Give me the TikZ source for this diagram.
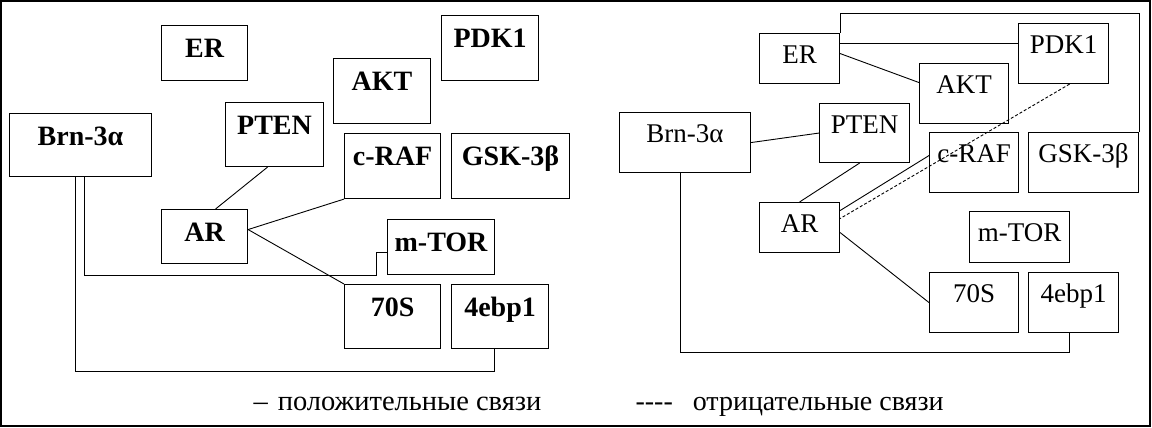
\documentclass[tikz,border=0pt]{standalone}
\usepackage{fontspec}
\setmainfont{Liberation Serif}
\usepackage{tikz}

\tikzset{
    gene/.style={draw, line width=1.1pt, inner sep=0pt, anchor=north west},
    genea/.style={gene, font=\bfseries\fontsize{28}{28}\selectfont, text height=32pt},
    geneb/.style={gene, font=\fontsize{27}{27}\selectfont, text height=30pt},
    link/.style={line width=0.9pt},
}

\begin{document}
\begin{tikzpicture}[x=1pt, y=-1pt]
    \useasboundingbox (0, 0) rectangle (1152, 428);
    \draw [line width=2pt] (1, 1) rectangle (1150, 426);

    % left scheme
    \node [genea, minimum width=86pt, text depth=23pt] (ERa) at (161, 25) {ER};
    \node [genea, minimum width=97pt, text depth=33pt] (PDKa) at (441, 15) {PDK1};
    \node [genea, minimum width=97pt, text depth=33pt] (AKTa) at (333, 58) {AKT};
    \node [genea, minimum width=98pt, text depth=32pt] (PTENa) at (225, 102) {PTEN};
    \node [genea, minimum width=142pt, text depth=31pt] (Brna) at (9, 113) {Brn-3α};
    \node [genea, minimum width=96pt, text depth=33pt] (cRAFa) at (344, 133) {c-RAF};
    \node [genea, minimum width=118pt, text depth=33pt] (GSKa) at (451, 133) {GSK-3β};
    \node [genea, minimum width=86pt, text depth=22pt] (ARa) at (161, 209) {AR};
    \node [genea, minimum width=107pt, text depth=23pt] (mTORa) at (387, 219) {m-TOR};
    \node [genea, minimum width=96pt, text depth=32pt] (SSa) at (344, 284) {70S};
    \node [genea, minimum width=97pt, text depth=32pt] (ebpa) at (451, 284) {4ebp1};

    \draw [link] ([xshift=-7pt]PTENa.south) -- ([xshift=11pt]ARa.north);
    \draw [link] ([yshift=7pt]ARa.east) -- (cRAFa.south west);
    \draw [link] ([yshift=7pt]ARa.east) -- (SSa.north west);
    \draw [link] ([xshift=4pt]Brna.south) |- ([xshift=-11pt]mTORa.south west)
      |- ([yshift=-5.5pt]mTORa.west);
    \draw [link] ([xshift=-5pt]Brna.south) |- ([xshift=-5.5pt, yshift=-22pt]ebpa.south)
      -- ([xshift=-5.5pt]ebpa.south);

    % right scheme
    \node [geneb, minimum width=80pt, text depth=20pt] (ERb) at (759, 33) {ER};
    \node [geneb, minimum width=90pt, text depth=30pt] (PDKb) at (1018, 23) {PDK1};
    \node [geneb, minimum width=89pt, text depth=30pt] (AKTb) at (919, 63) {AKT};
    \node [geneb, minimum width=90pt, text depth=29pt] (PTENb) at (819, 103) {PTEN};
    \node [geneb, minimum width=131pt, text depth=30pt] (Brnb) at (619, 112) {Brn-3α};
    \node [geneb, minimum width=89pt, text depth=30pt] (cRAFb) at (929, 132) {c-RAF};
    \node [geneb, minimum width=110pt, text depth=30pt] (GSKb) at (1028, 132) {GSK-3β};
    \node [geneb, minimum width=80pt, text depth=20pt] (ARb) at (759, 202) {AR};
    \node [geneb, minimum width=100pt, text depth=21pt] (mTORb) at (969, 211) {m-TOR};
    \node [geneb, minimum width=89pt, text depth=30pt] (SSb) at (929, 272) {70S};
    \node [geneb, minimum width=90pt, text depth=30pt] (ebpb) at (1028, 272) {4ebp1};

    \draw [link] (ERb.north east) -- ++(0, -20) -| (GSKb.north east);
    \draw [link] ([yshift=15pt]ERb.east) -- ([yshift=10pt]PDKb.west);
    \draw [link] ([yshift=5pt]ERb.east) -- ([yshift=11pt]AKTb.west);
    \draw [link] (Brnb.east) -- (PTENb.west);
    \draw [link] ([xshift=-5pt]PTENb.south) -- (ARb.north);
    \draw [link] ([yshift=17pt]ARb.east) -- ([yshift=7pt]cRAFb.west);
    \draw [link, dash pattern=on 3pt off 2pt] ([xshift=6pt]PDKb.south) -- ([yshift=9pt]ARb.east);
    \draw [link] ([yshift=-5pt]ARb.east) -- (SSb.west);
    \draw [link] ([xshift=-5pt]Brnb.south) |- ([xshift=-4pt, yshift=-19pt]ebpb.south)
      -- ([xshift=-4pt]ebpb.south);

    % legend
    \node [anchor=base west, font=\fontsize{28.5}{28.5}\selectfont] (pos) at (250, 410)
      {–\hspace{10pt}положительные связи};
    \node [anchor=base west, font=\fontsize{28}{28}\selectfont] (neg) at (632, 410)
      {{-}{-}{-}{-}\hspace{20pt}отрицательные связи};

\end{tikzpicture}
\end{document}
